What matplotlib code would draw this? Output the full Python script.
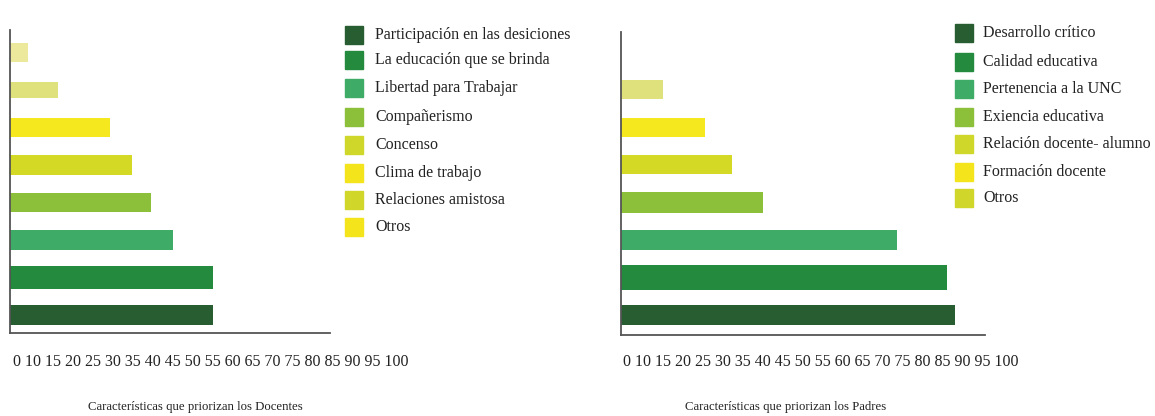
import matplotlib.pyplot as plt
from matplotlib.patches import Rectangle

# ------------------------------------------------------- #
# DATA
# ------------------------------------------------------- #
ticks = [0, 10, 15, 20, 25, 30, 35, 40, 45, 50, 55, 60, 65, 70, 75, 80, 85, 90, 95, 100]

docentes_labels = ["Participación en las desiciones", "La educación que se brinda",
                   "Libertad para Trabajar", "Compañerismo", "Concenso",
                   "Clima de trabajo", "Relaciones amistosa", "Otros"]
docentes_values = [55, 55, 44, 38, 33, 27, 13, 5]

padres_labels = ["Desarrollo crítico", "Calidad educativa", "Pertenencia a la UNC",
                 "Exiencia educativa", "Relación docente- alumno",
                 "Formación docente", "Otros"]
padres_values = [87, 85, 72, 37, 29, 22, 11]

# ------------------------------------------------------- #
# STYLE
# ------------------------------------------------------- #
bar_cols = ["#285c31", "#238a3e", "#3eab67", "#8cbf3a", "#d3d925", "#f5e81e", "#dfe27c", "#ece99c"]
leg_cols = ["#285c31", "#238a3e", "#3eab67", "#8cbf3a", "#cfd82a", "#f3e41c", "#d0d62a", "#f3e41c"]
serif = ["Liberation Serif", "DejaVu Serif"]
W, H = 1155, 416


def fx(px):
    return px / W


def fy(py):
    return 1 - py / H


def draw_panel(fig, rect, values, cols, xmax, ymin, ymax, heights):
    ax = fig.add_axes(rect)
    ypos = list(range(len(values)))
    ax.barh(ypos, values, height=heights, color=cols[:len(values)], align="center")
    ax.set_xlim(0, xmax)
    ax.set_ylim(ymin, ymax)
    for s in ["top", "right"]:
        ax.spines[s].set_visible(False)
    for s in ["left", "bottom"]:
        ax.spines[s].set_color("#555555")
        ax.spines[s].set_linewidth(1.3)
    ax.set_xticks([])
    ax.set_yticks([])
    return ax


def draw_legend(fig, labels, cols, x_box, x_txt, ys):
    for lab, col, y in zip(labels, cols, ys):
        fig.patches.append(Rectangle((fx(x_box), fy(y + 9)), fx(18), 18 / H,
                                     transform=fig.transFigure, color=col, figure=fig))
        fig.text(fx(x_txt), fy(y), lab, family=serif, fontsize=11.5,
                 color="#222222", va="center", ha="left")


fig = plt.figure(figsize=(W / 100, H / 100), dpi=100)
fig.patch.set_facecolor("white")

tick_row = " ".join(str(t) for t in ticks)

# left panel : docentes
draw_panel(fig, [fx(10), fy(333), fx(320), 303 / H], docentes_values, bar_cols,
           86.5, -0.48, 7.6, [0.55, 0.6, 0.53, 0.52, 0.52, 0.52, 0.45, 0.5])
draw_legend(fig, docentes_labels, leg_cols, 345, 375,
            [35, 60, 88, 117, 145, 173, 200, 227])
fig.text(fx(13), fy(362), tick_row, family=serif,
         fontsize=11.5, color="#222222", va="center", ha="left")
fig.text(fx(195), fy(407), "Características que priorizan los Docentes", family=serif,
         fontsize=9.2, color="#222222", va="center", ha="center")

# right panel : padres
draw_panel(fig, [fx(621), fy(335), fx(364), 303 / H], padres_values, bar_cols,
           94.8, -0.53, 7.53, [0.52, 0.66, 0.53, 0.56, 0.5, 0.5, 0.5])
draw_legend(fig, padres_labels, leg_cols, 955, 983,
            [33, 62, 89, 117, 144, 172, 198])
fig.text(fx(623), fy(362), tick_row, family=serif,
         fontsize=11.5, color="#222222", va="center", ha="left")
fig.text(fx(786), fy(407), "Características que priorizan los Padres", family=serif,
         fontsize=9.2, color="#222222", va="center", ha="center")

fig.savefig("out.png", dpi=100)
